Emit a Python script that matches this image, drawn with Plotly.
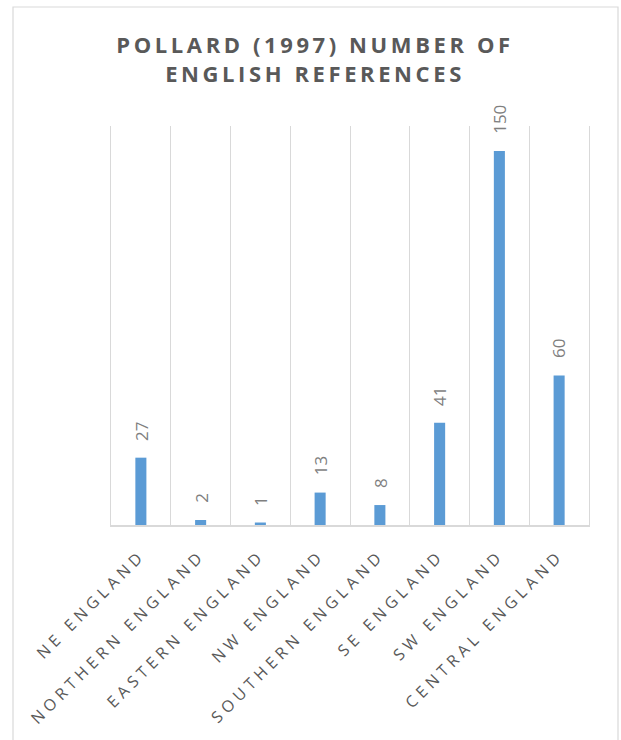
import plotly.graph_objects as go

categories = ["NE ENGLAND", "NORTHERN ENGLAND", "EASTERN ENGLAND", "NW ENGLAND",
              "SOUTHERN ENGLAND", "SE ENGLAND", "SW ENGLAND", "CENTRAL ENGLAND"]
values = [27, 2, 1, 13, 8, 41, 150, 60]
title_lines = ["POLLARD (1997) NUMBER OF", "ENGLISH REFERENCES"]

FONT = "Open Sans"
W, H = 621, 740
ml, mr, mt, mb = 111, 32, 126, 215
pw, ph = W - ml - mr, H - mt - mb

def px_x(p):
    return (p - ml) / pw

def px_y(p):
    return (H - mb - p) / ph

fig = go.Figure()
fig.add_trace(go.Bar(
    x=categories, y=values, width=0.185,
    marker=dict(color="#5B9BD5", line=dict(width=0)),
    hoverinfo="x+y",
))

for c, v in zip(categories, values):
    fig.add_annotation(
        x=c, y=v, xref="x", yref="y", text=str(v), showarrow=False,
        textangle=-90, xanchor="center", yanchor="bottom", yshift=15,
        font=dict(family=FONT, size=17, color="#7f7f7f"),
    )

ticktext = ['<span style="letter-spacing:4.6px">%s</span>' % c for c in categories]
title_html = "<br>".join('<span style="letter-spacing:3.6px"><b>%s</b></span>' % t for t in title_lines)

fig.update_layout(
    width=W, height=H,
    margin=dict(l=ml, r=mr, t=mt, b=mb, pad=0),
    paper_bgcolor="white", plot_bgcolor="white",
    showlegend=False,
    title=dict(
        text=title_html,
        font=dict(family=FONT, size=22, color="#595959"),
        x=315 / W, xref="container", xanchor="center",
        y=1 - 53 / H, yref="container", yanchor="top",
    ),
    xaxis=dict(
        type="category", tickson="boundaries", showgrid=True,
        gridcolor="#d9d9d9", gridwidth=1.3,
        showline=True, linecolor="#d9d9d9", linewidth=1.5,
        ticks="", tickangle=-45, ticklabelstandoff=13,
        tickvals=categories, ticktext=ticktext,
        tickfont=dict(family=FONT, size=16, color="#595959"),
        range=[-0.5, len(categories) - 0.5], fixedrange=True,
    ),
    yaxis=dict(range=[0, 160], showgrid=False, zeroline=False,
               showticklabels=False, ticks="", fixedrange=True,
               showline=True, mirror=True, linecolor="#d9d9d9", linewidth=1.3),
    shapes=[dict(type="rect", xref="paper", yref="paper",
                 x0=px_x(13), x1=px_x(618), y0=px_y(760), y1=px_y(7),
                 line=dict(color="#d9d9d9", width=1.2), layer="below")],
)

fig.write_html("out.html", config={"displayModeBar": False},
               post_script="document.body.style.margin='0';document.body.style.overflow='hidden';")
